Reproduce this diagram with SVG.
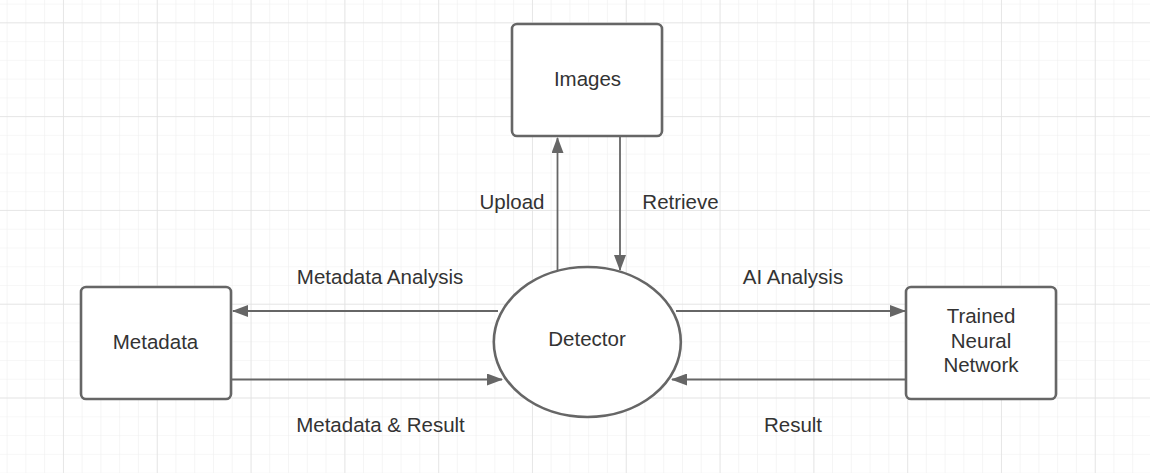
<svg xmlns="http://www.w3.org/2000/svg" width="1150" height="473" viewBox="0 0 1150 473">
<style>
.node{fill:#fff;stroke:#666;stroke-width:2.6}
.lbl{font-family:"Liberation Sans",Arial,sans-serif;font-size:20.5px;fill:#333;text-anchor:middle}
.edge{fill:none;stroke:#666;stroke-width:1.8}
</style>
<defs>
<pattern id="minor" x="6.6" y="3.6" width="18.76" height="18.76" patternUnits="userSpaceOnUse">
<path d="M0 0V18.76M0 0H18.76" fill="none" stroke="#efefef" stroke-width="1.2"/>
</pattern>
<pattern id="major" x="63" y="22.3" width="93.8" height="93.8" patternUnits="userSpaceOnUse">
<path d="M0 0V93.8M0 0H93.8" fill="none" stroke="#e1e1e1" stroke-width="1.4"/>
</pattern>
<marker id="arr" viewBox="0 0 16 12" refX="15" refY="6" markerWidth="16" markerHeight="12" markerUnits="userSpaceOnUse" orient="auto">
<path d="M0 0L16 6L0 12Z" fill="#666"/>
</marker>
</defs>
<rect width="1150" height="473" fill="#fff"/>
<rect width="1150" height="473" fill="url(#minor)"/>
<rect width="1150" height="473" fill="url(#major)"/>
<g id="connectors">
<line class="edge" x1="557.5" y1="270" x2="557.5" y2="138" marker-end="url(#arr)"/>
<line class="edge" x1="620" y1="137" x2="620" y2="270" marker-end="url(#arr)"/>
<line class="edge" x1="498" y1="311" x2="233" y2="311" marker-end="url(#arr)"/>
<line class="edge" x1="232" y1="379.5" x2="502" y2="379.5" marker-end="url(#arr)"/>
<line class="edge" x1="676" y1="311" x2="905" y2="311" marker-end="url(#arr)"/>
<line class="edge" x1="905" y1="379.5" x2="672" y2="379.5" marker-end="url(#arr)"/>
<text class="lbl" x="512" y="209">Upload</text>
<text class="lbl" x="680.5" y="209">Retrieve</text>
<text class="lbl" x="380" y="284">Metadata Analysis</text>
<text class="lbl" x="793" y="284">AI Analysis</text>
<text class="lbl" x="380.5" y="431.5">Metadata &amp; Result</text>
<text class="lbl" x="793" y="431.5">Result</text>
</g>
<g id="images">
<rect class="node" x="512" y="24" width="150" height="112" rx="5"/>
<text class="lbl" x="587.5" y="86">Images</text>
</g>
<g id="metadata">
<rect class="node" x="81" y="287" width="150" height="112" rx="5"/>
<text class="lbl" x="155.5" y="348.5">Metadata</text>
</g>
<g id="detector">
<ellipse class="node" cx="587.3" cy="342" rx="93.5" ry="75"/>
<text class="lbl" x="587" y="346">Detector</text>
</g>
<g id="trained-neural-network">
<rect class="node" x="906" y="287" width="150" height="112" rx="5"/>
<text class="lbl" x="981" y="322.5">Trained</text>
<text class="lbl" x="981" y="347.5">Neural</text>
<text class="lbl" x="981" y="371.5">Network</text>
</g>
</svg>
